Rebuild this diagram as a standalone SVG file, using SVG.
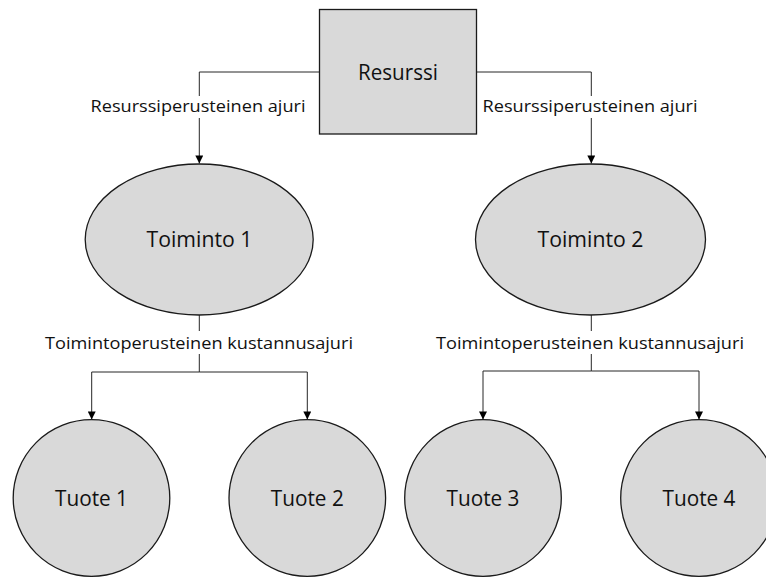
<svg xmlns="http://www.w3.org/2000/svg" width="766" height="577" viewBox="0 0 766 577">
  <style>
    .shape { fill: #d9d9d9; stroke: #1a1a1a; stroke-width: 1.3; }
    .wire { fill: none; stroke: #262626; stroke-width: 1; }
    .node-label { font-family: "Open Sans", "Noto Sans", sans-serif; font-size: 22px; fill: #111; text-anchor: middle; }
    .edge-label { font-family: "Open Sans", "Noto Sans", sans-serif; font-size: 17px; fill: #111; text-anchor: middle; }
    .label-bg { fill: #ffffff; }
  </style>
  <defs>
    <marker id="arrow" viewBox="0 0 10 10" refX="10" refY="5" markerWidth="9" markerHeight="8" markerUnits="userSpaceOnUse" orient="auto">
      <path d="M0,0 L10,5 L0,10 Z" fill="#000"/>
    </marker>
  </defs>

  <rect width="766" height="577" fill="#ffffff"/>

  <!-- connectors -->
  <g id="connectors">
    <path class="wire" d="M319.5,72 H199.3 V163.5" marker-end="url(#arrow)"/>
    <path class="wire" d="M476.7,72 H591.3 V163.5" marker-end="url(#arrow)"/>

    <path class="wire" d="M199.3,315 V372"/>
    <path class="wire" d="M199.3,372 H91.7 V419.5" marker-end="url(#arrow)"/>
    <path class="wire" d="M199.3,372 H307.3 V419.5" marker-end="url(#arrow)"/>

    <path class="wire" d="M591.3,315 V371"/>
    <path class="wire" d="M591.3,371 H483 V419.5" marker-end="url(#arrow)"/>
    <path class="wire" d="M591.3,371 H699 V419.5" marker-end="url(#arrow)"/>

    <rect class="label-bg" x="88" y="96" width="222" height="22"/>
    <text class="edge-label" x="198" y="111.5" textLength="215" lengthAdjust="spacingAndGlyphs">Resurssiperusteinen ajuri</text>
    <rect class="label-bg" x="480" y="96" width="222" height="22"/>
    <text class="edge-label" x="590" y="111.5" textLength="215" lengthAdjust="spacingAndGlyphs">Resurssiperusteinen ajuri</text>

    <rect class="label-bg" x="43" y="331" width="313" height="23"/>
    <text class="edge-label" x="199" y="349" textLength="308" lengthAdjust="spacingAndGlyphs">Toimintoperusteinen kustannusajuri</text>
    <rect class="label-bg" x="435" y="331" width="313" height="23"/>
    <text class="edge-label" x="590" y="349" textLength="308" lengthAdjust="spacingAndGlyphs">Toimintoperusteinen kustannusajuri</text>
  </g>

  <g id="resurssi">
    <rect class="shape" x="319.5" y="9.5" width="157" height="124.5"/>
    <text class="node-label" x="398" y="79.5" textLength="80" lengthAdjust="spacingAndGlyphs">Resurssi</text>
  </g>

  <g id="toiminto-1">
    <ellipse class="shape" cx="199.2" cy="239.5" rx="114" ry="75.5"/>
    <text class="node-label" x="199.5" y="247" textLength="106" lengthAdjust="spacingAndGlyphs">Toiminto 1</text>
  </g>

  <g id="toiminto-2">
    <ellipse class="shape" cx="590.5" cy="239.5" rx="115" ry="75.5"/>
    <text class="node-label" x="590.5" y="247" textLength="106" lengthAdjust="spacingAndGlyphs">Toiminto 2</text>
  </g>

  <g id="tuote-1">
    <circle class="shape" cx="91.5" cy="498" r="78.3"/>
    <text class="node-label" x="91.5" y="506" textLength="73" lengthAdjust="spacingAndGlyphs">Tuote 1</text>
  </g>

  <g id="tuote-2">
    <circle class="shape" cx="307.3" cy="498" r="78.3"/>
    <text class="node-label" x="307.3" y="506" textLength="73" lengthAdjust="spacingAndGlyphs">Tuote 2</text>
  </g>

  <g id="tuote-3">
    <circle class="shape" cx="483" cy="498" r="78.3"/>
    <text class="node-label" x="483" y="506" textLength="73" lengthAdjust="spacingAndGlyphs">Tuote 3</text>
  </g>

  <g id="tuote-4">
    <circle class="shape" cx="699" cy="498" r="78.3"/>
    <text class="node-label" x="699" y="506" textLength="73" lengthAdjust="spacingAndGlyphs">Tuote 4</text>
  </g>
</svg>
